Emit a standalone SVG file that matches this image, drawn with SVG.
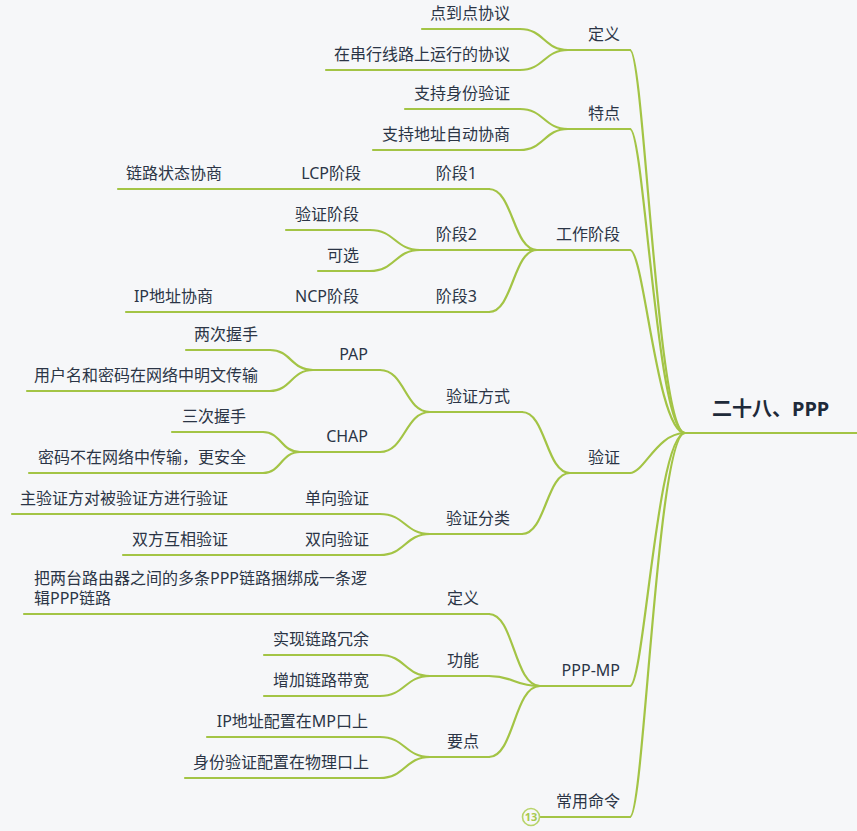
<svg xmlns="http://www.w3.org/2000/svg" width="857" height="831" viewBox="0 0 857 831">
<style>
.bg{fill:#f6f7f9}
.c{fill:none;stroke:#a3c445;stroke-width:2.2;stroke-linecap:round}
.ul{stroke:#a3c445;stroke-width:2.2;stroke-linecap:round}
.t{font-family:"Noto Sans","Noto Sans CJK SC",sans-serif;font-size:16px;fill:#2b3546;text-anchor:end}
.ts{text-anchor:start}
.root{font-family:"Noto Sans","Noto Sans CJK SC",sans-serif;font-size:20px;font-weight:bold;fill:#1e2a3a}
.badge{fill:#f6f7f9;stroke:#b8d46a;stroke-width:1.6}
.bt{font-family:"Noto Sans",sans-serif;font-size:11px;font-weight:bold;fill:#a8c94e;text-anchor:middle}
</style>
<rect class="bg" x="0" y="0" width="857" height="831"/>
<g id="connectors">
<!-- root to level 1 -->
<path class="c" d="M685 433 C657 433 644 50 630 50"/>
<path class="c" d="M685 433 C657 433 644 129 630 129"/>
<path class="c" d="M685 433 C657 433 644 250 630 250"/>
<path class="c" d="M685 433 C657 433 644 473 630 473"/>
<path class="c" d="M685 433 C657 433 644 686 630 686"/>
<path class="c" d="M685 433 C657 433 644 817 630 817"/>
<!-- 定义 -->
<path class="c" d="M568 50 C544 50 544 29 520 29"/>
<path class="c" d="M568 50 C544 50 544 70 520 70"/>
<!-- 特点 -->
<path class="c" d="M568 129 C544 129 544 109 520 109"/>
<path class="c" d="M568 129 C544 129 544 150 520 150"/>
<!-- 工作阶段 -->
<path class="c" d="M537 250 C513 250 513 189 489 189"/>
<path class="c" d="M537 250 L489 250"/>
<path class="c" d="M537 250 C513 250 513 312 489 312"/>
<path class="c" d="M428 189 L373 189"/>
<path class="c" d="M290 189 L233 189"/>
<path class="c" d="M420 250 C395 250 395 230 370 230"/>
<path class="c" d="M420 250 C395 250 395 271 370 271"/>
<path class="c" d="M428 312 L371 312"/>
<path class="c" d="M283 312 L225 312"/>
<!-- 验证 -->
<path class="c" d="M570 473 C546 473 546 412 522 412"/>
<path class="c" d="M570 473 C546 473 546 534 522 534"/>
<path class="c" d="M430 412 C405 412 405 370 380 370"/>
<path class="c" d="M430 412 C405 412 405 452 380 452"/>
<path class="c" d="M313 370 C291 370 291 350 270 350"/>
<path class="c" d="M313 370 C291 370 291 391 270 391"/>
<path class="c" d="M300 452 C281 452 281 432 263 432"/>
<path class="c" d="M300 452 C281 452 281 473 263 473"/>
<path class="c" d="M430 534 C405 534 405 514 380 514"/>
<path class="c" d="M430 534 C405 534 405 555 380 555"/>
<path class="c" d="M294 514 L240 514"/>
<path class="c" d="M294 555 L240 555"/>
<!-- PPP-MP -->
<path class="c" d="M540 686 C514 686 514 614 489 614"/>
<path class="c" d="M540 686 C514 686 514 676 489 676"/>
<path class="c" d="M540 686 C514 686 514 757 489 757"/>
<path class="c" d="M436 614 L380 614"/>
<path class="c" d="M430 676 C405 676 405 655 380 655"/>
<path class="c" d="M430 676 C405 676 405 696 380 696"/>
<path class="c" d="M430 757 C405 757 405 737 380 737"/>
<path class="c" d="M430 757 C405 757 405 778 380 778"/>
</g>
<g id="root"><line class="ul" x1="685" y1="433" x2="857" y2="433"/><text class="root" x="712" y="416">二十八、PPP</text></g>
<g id="n-def"><line class="ul" x1="568" y1="50" x2="630" y2="50"/><text class="t" x="620" y="40">定义</text></g>
<g id="n-def-1"><line class="ul" x1="422" y1="29" x2="520" y2="29"/><text class="t" x="510" y="19">点到点协议</text></g>
<g id="n-def-2"><line class="ul" x1="326" y1="70" x2="520" y2="70"/><text class="t" x="510" y="60">在串行线路上运行的协议</text></g>
<g id="n-feat"><line class="ul" x1="568" y1="129" x2="630" y2="129"/><text class="t" x="620" y="119">特点</text></g>
<g id="n-feat-1"><line class="ul" x1="405" y1="109" x2="520" y2="109"/><text class="t" x="510" y="99">支持身份验证</text></g>
<g id="n-feat-2"><line class="ul" x1="373" y1="150" x2="520" y2="150"/><text class="t" x="510" y="140">支持地址自动协商</text></g>
<g id="n-work"><line class="ul" x1="537" y1="250" x2="630" y2="250"/><text class="t" x="620" y="240">工作阶段</text></g>
<g id="n-s1"><line class="ul" x1="428" y1="189" x2="489" y2="189"/><text class="t" x="477" y="179">阶段1</text></g>
<g id="n-s1-1"><line class="ul" x1="290" y1="189" x2="373" y2="189"/><text class="t" x="361" y="179">LCP阶段</text></g>
<g id="n-s1-1-1"><line class="ul" x1="118" y1="189" x2="233" y2="189"/><text class="t" x="222" y="179">链路状态协商</text></g>
<g id="n-s2"><line class="ul" x1="420" y1="250" x2="489" y2="250"/><text class="t" x="477" y="240">阶段2</text></g>
<g id="n-s2-1"><line class="ul" x1="286" y1="230" x2="370" y2="230"/><text class="t" x="359" y="220">验证阶段</text></g>
<g id="n-s2-2"><line class="ul" x1="318" y1="271" x2="370" y2="271"/><text class="t" x="359" y="261">可选</text></g>
<g id="n-s3"><line class="ul" x1="428" y1="312" x2="489" y2="312"/><text class="t" x="477" y="302">阶段3</text></g>
<g id="n-s3-1"><line class="ul" x1="283" y1="312" x2="371" y2="312"/><text class="t" x="359" y="302">NCP阶段</text></g>
<g id="n-s3-1-1"><line class="ul" x1="126" y1="312" x2="225" y2="312"/><text class="t" x="213" y="302">IP地址协商</text></g>
<g id="n-auth"><line class="ul" x1="570" y1="473" x2="630" y2="473"/><text class="t" x="620" y="463">验证</text></g>
<g id="n-way"><line class="ul" x1="430" y1="412" x2="522" y2="412"/><text class="t" x="510" y="402">验证方式</text></g>
<g id="n-pap"><line class="ul" x1="313" y1="370" x2="380" y2="370"/><text class="t" x="368" y="360">PAP</text></g>
<g id="n-pap-1"><line class="ul" x1="186" y1="350" x2="270" y2="350"/><text class="t" x="258" y="340">两次握手</text></g>
<g id="n-pap-2"><line class="ul" x1="27" y1="391" x2="270" y2="391"/><text class="t" x="258" y="381">用户名和密码在网络中明文传输</text></g>
<g id="n-chap"><line class="ul" x1="300" y1="452" x2="380" y2="452"/><text class="t" x="368" y="442">CHAP</text></g>
<g id="n-chap-1"><line class="ul" x1="172" y1="432" x2="263" y2="432"/><text class="t" x="246" y="422">三次握手</text></g>
<g id="n-chap-2"><line class="ul" x1="29" y1="473" x2="263" y2="473"/><text class="t" x="246" y="463">密码不在网络中传输，更安全</text></g>
<g id="n-cls"><line class="ul" x1="430" y1="534" x2="522" y2="534"/><text class="t" x="510" y="524">验证分类</text></g>
<g id="n-one"><line class="ul" x1="294" y1="514" x2="380" y2="514"/><text class="t" x="369" y="504">单向验证</text></g>
<g id="n-one-1"><line class="ul" x1="12" y1="514" x2="240" y2="514"/><text class="t" x="228" y="504">主验证方对被验证方进行验证</text></g>
<g id="n-two"><line class="ul" x1="294" y1="555" x2="380" y2="555"/><text class="t" x="369" y="545">双向验证</text></g>
<g id="n-two-1"><line class="ul" x1="123" y1="555" x2="240" y2="555"/><text class="t" x="228" y="545">双方互相验证</text></g>
<g id="n-mp"><line class="ul" x1="540" y1="686" x2="630" y2="686"/><text class="t" x="620" y="676">PPP-MP</text></g>
<g id="n-mpdef"><line class="ul" x1="436" y1="614" x2="489" y2="614"/><text class="t" x="479" y="604">定义</text></g>
<g id="n-mpdef-1"><line class="ul" x1="24" y1="614" x2="380" y2="614"/><text class="t ts" x="34" y="584">把两台路由器之间的多条PPP链路捆绑成一条逻</text><text class="t ts" x="34" y="604">辑PPP链路</text></g>
<g id="n-func"><line class="ul" x1="430" y1="676" x2="489" y2="676"/><text class="t" x="479" y="666">功能</text></g>
<g id="n-func-1"><line class="ul" x1="264" y1="655" x2="380" y2="655"/><text class="t" x="369" y="645">实现链路冗余</text></g>
<g id="n-func-2"><line class="ul" x1="264" y1="696" x2="380" y2="696"/><text class="t" x="369" y="686">增加链路带宽</text></g>
<g id="n-key"><line class="ul" x1="430" y1="757" x2="489" y2="757"/><text class="t" x="479" y="747">要点</text></g>
<g id="n-key-1"><line class="ul" x1="207" y1="737" x2="380" y2="737"/><text class="t" x="368" y="727">IP地址配置在MP口上</text></g>
<g id="n-key-2"><line class="ul" x1="185" y1="778" x2="380" y2="778"/><text class="t" x="369" y="768">身份验证配置在物理口上</text></g>
<g id="n-cmd"><line class="ul" x1="540" y1="817" x2="630" y2="817"/><text class="t" x="620" y="807">常用命令</text><circle class="badge" cx="531" cy="817" r="8.5"/><text class="bt" x="531" y="821">13</text></g>
</svg>
